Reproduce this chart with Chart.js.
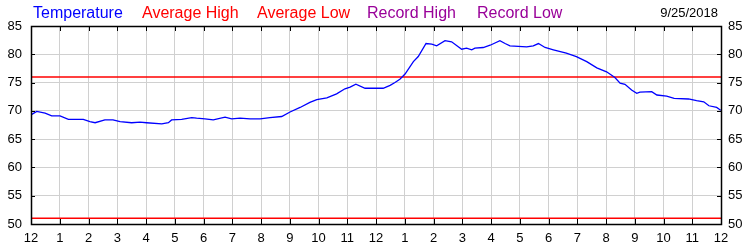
<!DOCTYPE html>
<html>
<head>
<meta charset="utf-8">
<script src="https://cdn.jsdelivr.net/npm/chart.js@4/dist/chart.umd.min.js"></script>
<style>
  body { margin: 0; background: #fff; }
  #wrap { width: 750px; height: 250px; }
</style>
</head>
<body>
<div id="wrap"><canvas id="tempChart" width="750" height="250"></canvas></div>
<script>
// hours since midnight
const hours = [
  0.00, 0.20, 0.49, 0.72, 1.01, 1.30, 1.82, 2.05, 2.23, 2.57, 2.85, 3.10, 3.50, 3.79,
  4.02, 4.55, 4.78, 4.89, 5.24, 5.59, 5.76, 6.05, 6.34, 6.75, 6.98, 7.27, 7.62, 7.97,
  8.31, 8.72, 9.01, 9.36, 9.70, 9.94, 10.29, 10.63, 10.92, 11.10, 11.30, 11.62, 12.25,
  12.49, 12.66, 12.83, 13.01, 13.30, 13.47, 13.74, 13.94, 14.11, 14.40, 14.63, 14.98,
  15.15, 15.33, 15.44, 15.73, 15.97, 16.31, 16.49, 16.66, 17.24, 17.47, 17.65, 17.88,
  18.17, 18.62, 18.97, 19.33, 19.68, 20.02, 20.31, 20.49, 20.66, 20.89, 21.07, 21.18,
  21.59, 21.77, 22.11, 22.37, 22.87, 23.15, 23.40, 23.58, 23.85, 23.99
];
const temps = [
  69.3, 69.9, 69.6, 69.1, 69.1, 68.5, 68.5, 68.1, 67.9, 68.4, 68.4, 68.1, 67.9, 68.0,
  67.9, 67.7, 67.9, 68.4, 68.5, 68.8, 68.7, 68.6, 68.4, 68.9, 68.6, 68.7, 68.6, 68.6,
  68.8, 69.0, 69.8, 70.6, 71.5, 72.0, 72.3, 73.0, 73.9, 74.2, 74.7, 74.0, 74.0,
  74.5, 75.0, 75.6, 76.5, 78.7, 79.6, 81.9, 81.8, 81.5, 82.4, 82.2, 80.9,
  81.1, 80.8, 81.1, 81.2, 81.6, 82.4, 81.9, 81.5, 81.3, 81.5, 81.9, 81.2,
  80.8, 80.2, 79.6, 78.7, 77.6, 76.9, 75.9, 74.9, 74.7, 73.7, 73.1, 73.3,
  73.4, 72.8, 72.6, 72.2, 72.1, 71.8, 71.6, 70.9, 70.6, 70.1
];
const avgHigh = 76;
const avgLow = 51;

const legendLabels = ["Temperature", "Average High", "Average Low", "Record High", "Record Low"];
const legendColors = ["#0000ff", "#ff0000", "#ff0000", "#990099", "#990099"];
const dateLabel = "9/25/2018";

const yMin = 50, yMax = 85, yStep = 5;
const hourLabels = ["12", "1", "2", "3", "4", "5", "6", "7", "8", "9", "10", "11",
  "12", "1", "2", "3", "4", "5", "6", "7", "8", "9", "10", "11", "12"];

const tempPoints = hours.map((h, i) => ({ x: h, y: temps[i] }));

// legend text row + black frame with inner tick marks
const framePlugin = {
  id: "frame",
  afterDraw(chart) {
    const { ctx, chartArea: a, scales } = chart;
    ctx.save();

    // legend
    ctx.font = "16px 'Liberation Sans', Arial, sans-serif";
    ctx.textBaseline = "alphabetic";
    ctx.textAlign = "left";
    const legendX = [33, 142, 257, 367, 477];
    legendLabels.forEach((txt, i) => {
      ctx.fillStyle = legendColors[i];
      ctx.fillText(txt, legendX[i], 18);
    });
    ctx.font = "13px 'Liberation Sans', Arial, sans-serif";
    ctx.fillStyle = "#000";
    ctx.textAlign = "right";
    ctx.fillText(dateLabel, 718, 17);

    // tick marks pointing inward
    ctx.strokeStyle = "#000";
    ctx.lineWidth = 1;
    ctx.beginPath();
    for (let h = 1; h < 24; h++) {
      const px = Math.round(scales.x.getPixelForValue(h)) + 0.5;
      ctx.moveTo(px, a.bottom);
      ctx.lineTo(px, a.bottom - 5);
      ctx.moveTo(px, a.top);
      ctx.lineTo(px, a.top + 5);
    }
    for (let v = yMin + yStep; v < yMax; v += yStep) {
      const py = Math.round(scales.y.getPixelForValue(v)) + 0.5;
      ctx.moveTo(a.left, py);
      ctx.lineTo(a.left + 4, py);
      ctx.moveTo(a.right, py);
      ctx.lineTo(a.right - 4, py);
    }
    ctx.stroke();

    // frame
    ctx.lineWidth = 1.5;
    ctx.strokeRect(a.left + 0.5, a.top + 0.5, a.right - a.left, a.bottom - a.top);
    ctx.restore();
  }
};

new Chart(document.getElementById("tempChart"), {
  type: "line",
  data: {
    datasets: [
      {
        label: "Temperature",
        data: tempPoints,
        borderColor: "#0000ff",
        borderWidth: 1.3,
        pointRadius: 0,
        tension: 0,
      },
      {
        label: "Average High",
        data: [{ x: 0, y: avgHigh }, { x: 24, y: avgHigh }],
        borderColor: "#ff0000",
        borderWidth: 1.5,
        pointRadius: 0,
      },
      {
        label: "Average Low",
        data: [{ x: 0, y: avgLow }, { x: 24, y: avgLow }],
        borderColor: "#ff0000",
        borderWidth: 1.5,
        pointRadius: 0,
      },
    ],
  },
  options: {
    responsive: false,
    devicePixelRatio: 1,
    animation: false,
    layout: { padding: { top: 26, left: 0, right: 0, bottom: 0 } },
    plugins: {
      legend: { display: false },
      tooltip: { enabled: false },
    },
    scales: {
      x: {
        type: "linear",
        min: 0,
        max: 24,
        afterFit: (s) => { s.height = 26; },
        border: { display: false },
        grid: { color: "#d0d0d0", drawTicks: false },
        ticks: {
          stepSize: 1,
          autoSkip: false,
          maxRotation: 0,
          padding: 7,
          color: "#000",
          font: { family: "'Liberation Sans', Arial, sans-serif", size: 13 },
          callback: (v) => hourLabels[v],
        },
      },
      y: {
        position: "left",
        min: yMin,
        max: yMax,
        afterFit: (s) => { s.width = 31; },
        border: { display: false },
        grid: { color: "#d0d0d0", drawTicks: false },
        ticks: {
          stepSize: yStep,
          padding: 9,
          color: "#000",
          font: { family: "'Liberation Sans', Arial, sans-serif", size: 13 },
        },
      },
      y2: {
        position: "right",
        min: yMin,
        max: yMax,
        afterFit: (s) => { s.width = 29; },
        border: { display: false },
        grid: { display: false, drawTicks: false },
        ticks: {
          stepSize: yStep,
          padding: 7,
          color: "#000",
          font: { family: "'Liberation Sans', Arial, sans-serif", size: 13 },
        },
      },
    },
  },
  plugins: [framePlugin],
});
</script>
</body>
</html>
